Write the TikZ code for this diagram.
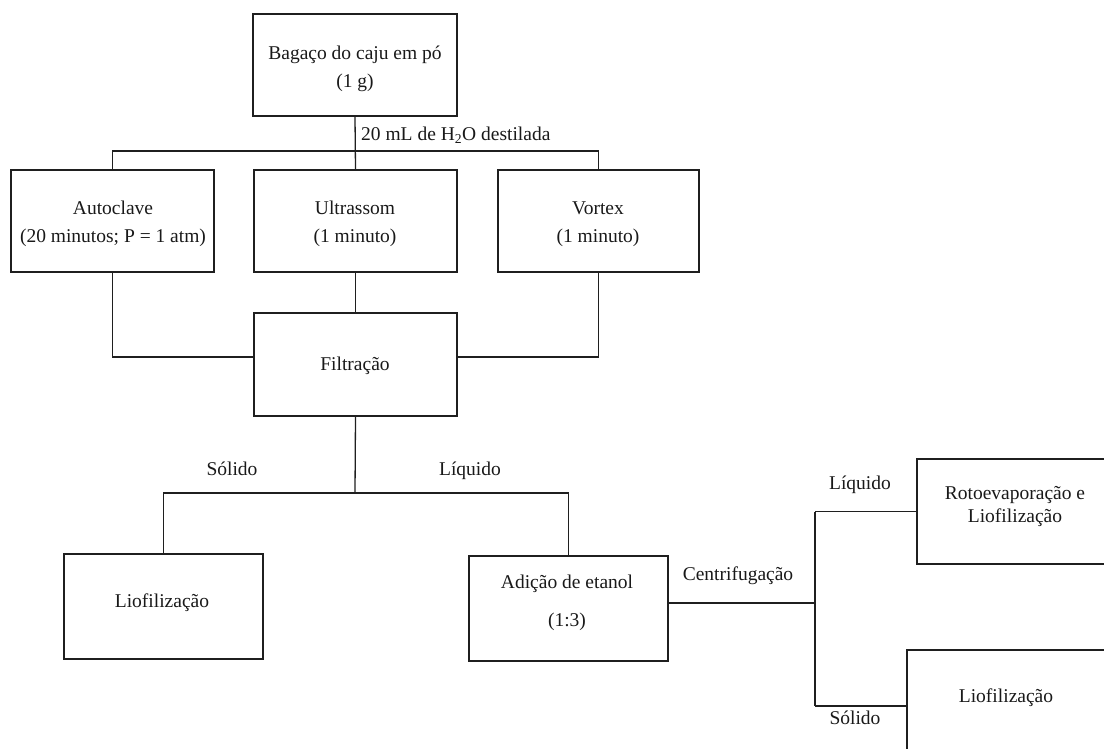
\documentclass[tikz,border=0pt]{standalone}
\usepackage{fontspec}
\setmainfont{Liberation Serif}
\begin{document}
\begin{tikzpicture}[x=1pt,y=-1pt,
  box/.style={draw=black!88,line width=1.4pt,rectangle,inner sep=0pt},
  txt/.style={inner sep=0pt,align=center,text=black!90,font=\fontsize{19.5}{28}\selectfont},
  lbl/.style={inner sep=0pt,text=black!90,font=\fontsize{19.5}{23.4}\selectfont,text height=0.72em,text depth=0.22em},
  conn/.style={draw=black!88,line width=1.3pt}]
\useasboundingbox (0,0) rectangle (1104,749);
\clip (0,0) rectangle (1104,749);
% boxes
\node[box,minimum width=204pt,minimum height=102pt] (bag) at (355,65) {};
\node[box,minimum width=203pt,minimum height=102pt] (auto) at (112.5,221) {};
\node[box,minimum width=203pt,minimum height=102pt] (ultra) at (355.5,221) {};
\node[box,minimum width=201pt,minimum height=102pt] (vortex) at (598.5,221) {};
\node[box,minimum width=203pt,minimum height=103pt] (filt) at (355.5,364.5) {};
\node[box,minimum width=199pt,minimum height=105pt] (lioA) at (163.5,606.5) {};
\node[box,minimum width=199pt,minimum height=105pt] (adic) at (568.5,608.5) {};
\node[box,minimum width=200pt,minimum height=105pt] (roto) at (1017,511.5) {};
\node[box,minimum width=200pt,minimum height=105pt] (lioB) at (1007,702.5) {};
% texts
\node[txt] (tbag) at (355,69) {Bagaço do caju em pó\\(1 g)};
\node[txt] (tauto) at (113,224) {Autoclave\\(20 minutos; P = 1 atm)};
\node[txt] (tultra) at (355,224) {Ultrassom\\(1 minuto)};
\node[txt] (tvortex) at (598,224) {Vortex\\(1 minuto)};
\node[txt] (tfilt) at (355,366) {Filtração};
\node[txt] (tlioA) at (162,603) {Liofilização};
\node[txt,font=\fontsize{19.5}{38}\selectfont] (tadic) at (567,603) {Adição de etanol\\(1:3)};
\node[txt,font=\fontsize{19.5}{23}\selectfont] (troto) at (1015,507) {Rotoevaporação e\\Liofilização};
\node[txt] (tlioB) at (1006,698) {Liofilização};
% connectors
\coordinate (t1) at (355,151);
\draw[conn] (bag.south) -- (ultra.north);
\draw[conn] (auto.north) -- (auto.north |- t1) -- (vortex.north |- t1) -- (vortex.north);
\node[lbl,anchor=west] (water) at (361,138) {20 mL de H\textsubscript{2}O destilada};
\draw[conn] (auto.south) |- ([yshift=7.5pt]filt.west);
\draw[conn] (vortex.south) |- ([yshift=7.5pt]filt.east);
\draw[conn] (ultra.south) -- (filt.north);
\coordinate (t2) at (355,493);
\draw[conn] (filt.south) -- (t2);
\draw[conn] (lioA.north) -- (lioA.north |- t2) -- (adic.north |- t2) -- (adic.north);
\node[lbl] (sol1) at (232,473) {Sólido};
\node[lbl] (liq1) at (470,473) {Líquido};
\coordinate (c) at (815,603);
\draw[conn] ([yshift=5.5pt]adic.east) -- (c);
\node[lbl] (centr) at (738,578) {Centrifugação};
\draw[conn] (roto.west -| c) -- ([yshift=-3.5pt]lioB.west -| c);
\draw[conn] (roto.west -| c) -- (roto.west);
\draw[conn] ([yshift=-3.5pt]lioB.west -| c) -- ([yshift=-3.5pt]lioB.west);
\node[lbl] (liq2) at (860,487) {Líquido};
\node[lbl] (sol2) at (855,722) {Sólido};
\end{tikzpicture}
\end{document}
